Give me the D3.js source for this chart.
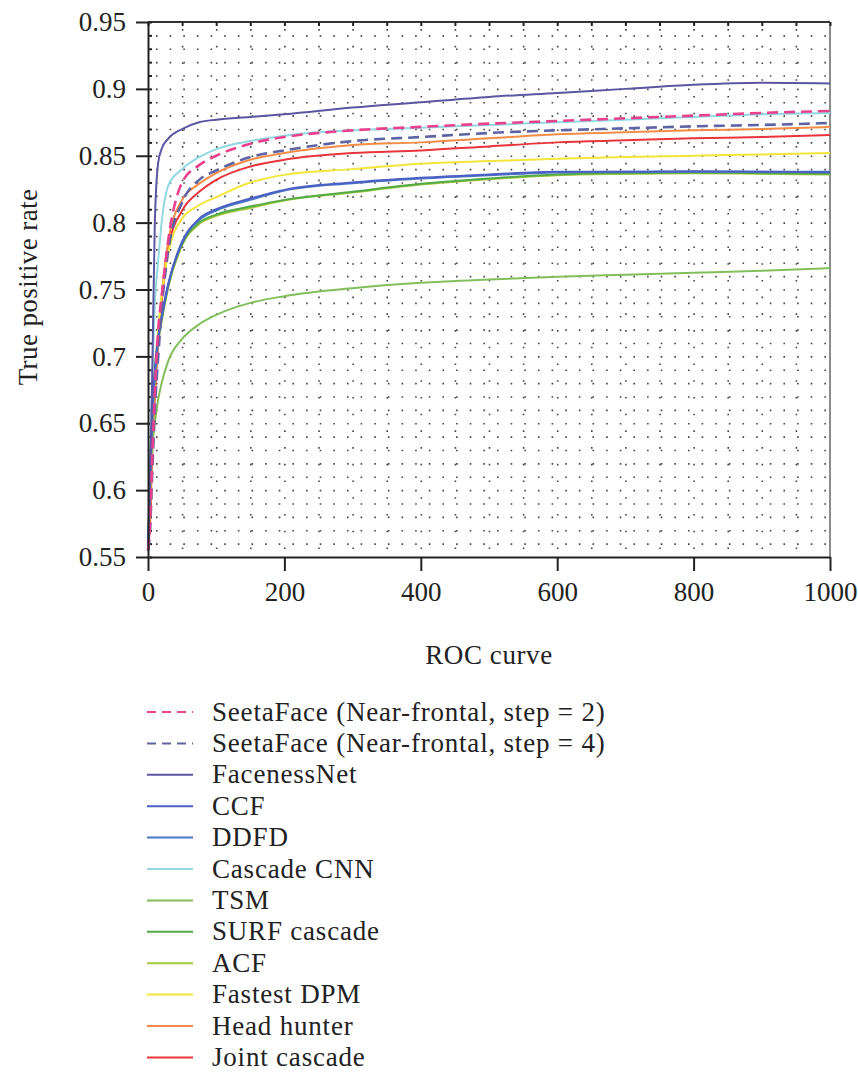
<!DOCTYPE html>
<html>
<head>
<meta charset="utf-8">
<script src="https://cdn.jsdelivr.net/npm/d3@7"></script>
<style>
  body { margin: 0; background: #fff; }
  svg { font-family: 'Liberation Serif', 'DejaVu Serif', serif; }
  .axis path, .axis line { stroke: #222; stroke-width: 2; }
  .axis text { font-family: 'Liberation Serif', serif; font-size: 27px; fill: #222; }
  .grid line { stroke: #444; stroke-width: 1.6; }
  .grid path { display: none; }
  .axis-title { font-size: 27px; fill: #222; }
  .legend-label { font-size: 27px; letter-spacing: 0.8px; fill: #222; }
</style>
</head>
<body>
<div id="chart"></div>
<script>
// false positives (x) sampled for every curve
const falsePositives = [0, 3, 6, 10, 15, 20, 30, 50, 75, 100, 150, 200, 300, 400, 500, 600, 700, 800, 900, 1000];

const seetaStep2   = [0.555, 0.575, 0.62, 0.673, 0.72, 0.745, 0.788, 0.83, 0.843, 0.850, 0.859, 0.864, 0.869, 0.8716, 0.874, 0.876, 0.878, 0.880, 0.882, 0.8835];
const seetaStep4   = [0.555, 0.57, 0.61, 0.66, 0.70, 0.735, 0.78, 0.815, 0.832, 0.839, 0.849, 0.854, 0.861, 0.864, 0.867, 0.869, 0.8705, 0.872, 0.873, 0.8745];
const facenessNet  = [0.555, 0.60, 0.68, 0.80, 0.845, 0.855, 0.863, 0.870, 0.875, 0.877, 0.879, 0.881, 0.886, 0.890, 0.894, 0.897, 0.900, 0.903, 0.9045, 0.904];
const ccf          = [0.555, 0.61, 0.655, 0.69, 0.715, 0.73, 0.755, 0.785, 0.803, 0.810, 0.818, 0.8245, 0.830, 0.8335, 0.836, 0.838, 0.838, 0.8385, 0.838, 0.8375];
const ddfd         = [0.555, 0.605, 0.65, 0.685, 0.712, 0.728, 0.754, 0.786, 0.802, 0.809, 0.817, 0.824, 0.8295, 0.833, 0.8355, 0.8375, 0.838, 0.838, 0.838, 0.838];
const cascadeCnn   = [0.555, 0.62, 0.68, 0.74, 0.772, 0.80, 0.828, 0.840, 0.849, 0.855, 0.861, 0.865, 0.869, 0.871, 0.873, 0.875, 0.877, 0.879, 0.881, 0.882];
const tsm          = [0.555, 0.60, 0.63, 0.65, 0.668, 0.68, 0.697, 0.713, 0.724, 0.731, 0.740, 0.745, 0.751, 0.755, 0.7575, 0.7595, 0.761, 0.7625, 0.764, 0.766];
const surfCascade  = [0.555, 0.61, 0.652, 0.688, 0.713, 0.728, 0.754, 0.784, 0.80, 0.806, 0.812, 0.817, 0.823, 0.829, 0.833, 0.836, 0.837, 0.8375, 0.837, 0.8365];
const acf          = [0.555, 0.605, 0.648, 0.685, 0.71, 0.726, 0.752, 0.783, 0.799, 0.805, 0.811, 0.8165, 0.8225, 0.8285, 0.8325, 0.8355, 0.8365, 0.837, 0.8365, 0.836];
const fastestDpm   = [0.555, 0.60, 0.65, 0.69, 0.72, 0.745, 0.778, 0.803, 0.813, 0.819, 0.830, 0.8357, 0.840, 0.844, 0.846, 0.8477, 0.849, 0.850, 0.851, 0.852];
const headHunter   = [0.555, 0.58, 0.63, 0.675, 0.715, 0.745, 0.787, 0.817, 0.829, 0.837, 0.847, 0.852, 0.858, 0.860, 0.863, 0.866, 0.8675, 0.869, 0.870, 0.8716];
const jointCascade = [0.555, 0.575, 0.625, 0.67, 0.71, 0.74, 0.782, 0.809, 0.823, 0.832, 0.842, 0.847, 0.852, 0.854, 0.857, 0.860, 0.8615, 0.863, 0.864, 0.8656];

const seriesNames = ['SeetaFace (Near-frontal, step = 2)', 'SeetaFace (Near-frontal, step = 4)', 'FacenessNet', 'CCF', 'DDFD',
  'Cascade CNN', 'TSM', 'SURF cascade', 'ACF', 'Fastest DPM', 'Head hunter', 'Joint cascade'];
const seriesValues = [seetaStep2, seetaStep4, facenessNet, ccf, ddfd, cascadeCnn, tsm, surfCascade, acf, fastestDpm, headHunter, jointCascade];
const seriesColors = ['#e8428e', '#5d63a3', '#5b56a2', '#4c5fc4', '#4a78c4', '#92d8e2', '#82bf5a', '#55aa48', '#a2c93e', '#f2e63a', '#f28c46', '#e8353c'];
const seriesDashed = [true, true, false, false, false, false, false, false, false, false, false, false];

const xTicks = [0, 200, 400, 600, 800, 1000];
const yTicks = [0.55, 0.6, 0.65, 0.7, 0.75, 0.8, 0.85, 0.9, 0.95];
const yTickLabels = ['0.55', '0.6', '0.65', '0.7', '0.75', '0.8', '0.85', '0.9', '0.95'];

class RocChart {

  constructor(_config) {
    this.config = {
      parentElement: _config.parentElement,
      containerWidth: 858,
      containerHeight: 1075,
      margin: {top: 22, right: 28, bottom: 518, left: 148}
    }
    this.data = seriesNames.map((name, i) => ({
      name: name,
      color: seriesColors[i],
      dashed: seriesDashed[i],
      points: falsePositives.map((fp, j) => ({fp: fp, tpr: seriesValues[i][j]}))
    }));
    this.initVis();
  }

  initVis() {
    let vis = this;

    vis.width = vis.config.containerWidth - vis.config.margin.left - vis.config.margin.right;
    vis.height = vis.config.containerHeight - vis.config.margin.top - vis.config.margin.bottom;

    vis.xScale = d3.scaleLinear()
        .domain([0, 1000])
        .range([0, vis.width]);

    vis.yScale = d3.scaleLinear()
        .domain([0.55, 0.95])
        .range([vis.height, 0]);

    vis.svg = d3.select(vis.config.parentElement).append('svg')
        .attr('width', vis.config.containerWidth)
        .attr('height', vis.config.containerHeight);

    vis.chart = vis.svg.append('g')
        .attr('transform', `translate(${vis.config.margin.left},${vis.config.margin.top})`);

    // dotted background grid
    vis.chart.append('g')
        .attr('class', 'grid')
        .call(d3.axisLeft(vis.yScale).ticks(32).tickSize(-vis.width).tickFormat(''))
        .call(g => g.selectAll('line')
            .attr('stroke-dasharray', '1.6,12.04')
            .attr('stroke-dashoffset', -8)
            .filter(d => d <= 0.5501 || d >= 0.9499).remove());

    vis.chart.append('g')
        .attr('class', 'grid')
        .attr('transform', `translate(0,${vis.height})`)
        .call(d3.axisBottom(vis.xScale).ticks(25).tickSize(-vis.height).tickFormat(''))
        .call(g => g.selectAll('line')
            .attr('stroke-dasharray', '1.6,15.12')
            .attr('stroke-dashoffset', -8)
            .filter(d => d === 0 || d === 1000).remove());

    // frame: top and right
    vis.chart.append('line')
        .attr('x1', 0).attr('x2', vis.width)
        .attr('y1', 0).attr('y2', 0)
        .attr('stroke', '#333').attr('stroke-width', 2);
    vis.chart.append('line')
        .attr('x1', vis.width).attr('x2', vis.width)
        .attr('y1', 0).attr('y2', vis.height)
        .attr('stroke', '#666').attr('stroke-width', 1.5);

    // small inner ticks on top and left
    vis.chart.append('g')
        .attr('class', 'axis minor')
        .call(d3.axisBottom(vis.xScale).ticks(25).tickSize(4).tickFormat('').tickSizeOuter(0))
        .call(g => g.select('.domain').remove())
        .call(g => g.selectAll('line').attr('stroke-width', 1.2).attr('stroke', '#555'));
    vis.chart.append('g')
        .attr('class', 'axis minor')
        .call(d3.axisRight(vis.yScale).ticks(32).tickSize(4).tickFormat('').tickSizeOuter(0))
        .call(g => g.select('.domain').remove())
        .call(g => g.selectAll('line').attr('stroke-width', 1.2).attr('stroke', '#777'));

    vis.xAxis = d3.axisBottom(vis.xScale)
        .tickValues(xTicks)
        .tickSize(14)
        .tickSizeOuter(0)
        .tickPadding(11)
        .tickFormat(d3.format('d'));

    vis.yAxis = d3.axisLeft(vis.yScale)
        .tickValues(yTicks)
        .tickSize(12)
        .tickSizeOuter(0)
        .tickPadding(10)
        .tickFormat((d, i) => yTickLabels[i]);

    vis.xAxisG = vis.chart.append('g')
        .attr('class', 'axis x-axis')
        .attr('transform', `translate(0,${vis.height})`);

    vis.yAxisG = vis.chart.append('g')
        .attr('class', 'axis y-axis');

    vis.svg.append('text')
        .attr('class', 'axis-title')
        .attr('text-anchor', 'middle')
        .attr('letter-spacing', 0.6)
        .attr('x', vis.config.margin.left + vis.width / 2)
        .attr('y', 664)
        .text('ROC curve');

    vis.svg.append('text')
        .attr('class', 'axis-title')
        .attr('text-anchor', 'middle')
        .attr('letter-spacing', 0.4)
        .attr('transform', 'translate(37,287) rotate(-90)')
        .text('True positive rate');

    vis.line = d3.line()
        .x(d => vis.xScale(d.fp))
        .y(d => vis.yScale(d.tpr))
        .curve(d3.curveMonotoneX);

    vis.renderVis();
  }

  renderVis() {
    let vis = this;

    vis.xAxisG.call(vis.xAxis);
    vis.yAxisG.call(vis.yAxis);

    // draw in reverse legend order so the SeetaFace curves sit on top
    vis.chart.append('g').selectAll('.curve')
        .data(vis.data.slice().reverse())
        .join('path')
        .attr('class', 'curve')
        .attr('fill', 'none')
        .attr('stroke', d => d.color)
        .attr('stroke-width', d => d.dashed ? 2.6 : 2)
        .attr('stroke-dasharray', d => d.dashed ? '11,6' : null)
        .attr('d', d => vis.line(d.points));

    // re-draw axis lines on top of curve starts
    vis.xAxisG.raise();
    vis.yAxisG.raise();

    const legend = vis.svg.append('g')
        .attr('transform', 'translate(147,712)');

    const rows = legend.selectAll('.legend-row')
        .data(vis.data)
        .join('g')
        .attr('class', 'legend-row')
        .attr('transform', (d, i) => `translate(0,${i * 31.4})`);

    rows.append('line')
        .attr('x1', 0).attr('x2', 46)
        .attr('stroke', d => d.color)
        .attr('stroke-width', 2)
        .attr('stroke-dasharray', d => d.dashed ? '9,6' : null);

    rows.append('text')
        .attr('class', 'legend-label')
        .attr('x', 65)
        .attr('dy', '0.32em')
        .text(d => d.name);
  }
}

new RocChart({parentElement: '#chart'});
</script>
</body>
</html>
